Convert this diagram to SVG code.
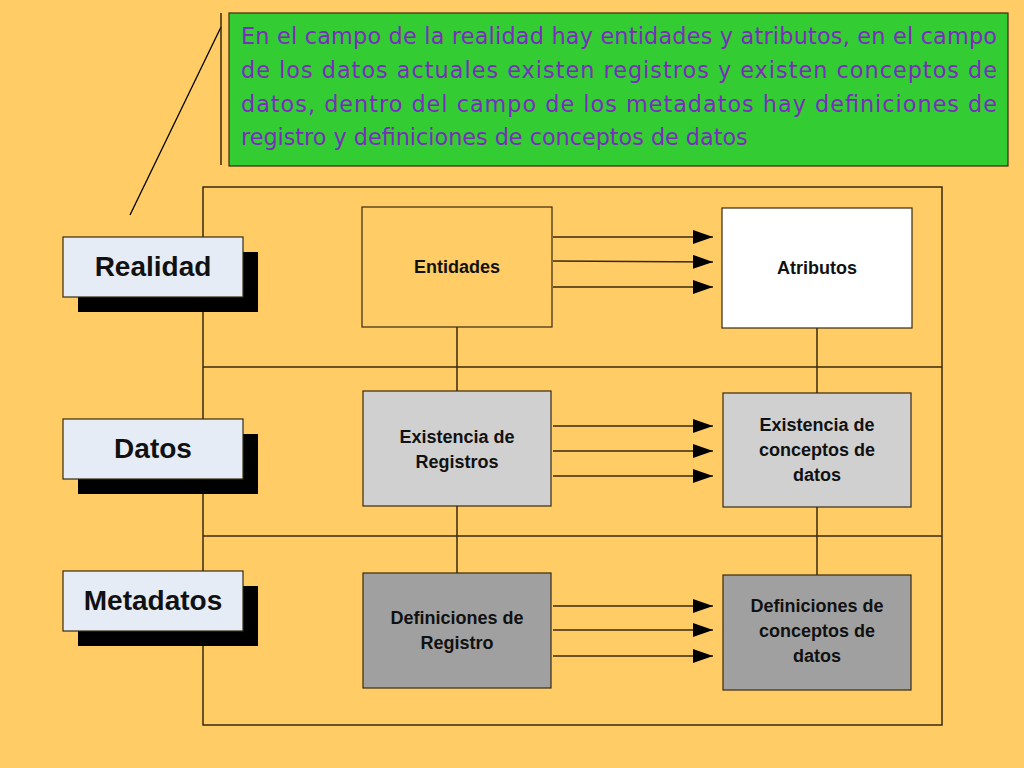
<svg xmlns="http://www.w3.org/2000/svg" width="1024" height="768" viewBox="0 0 1024 768">
<style>
.b{stroke:#3a2a10;stroke-width:1.2}
.ln{stroke:#3a2a10;stroke-width:1.5;fill:none}
.t{font-family:"Liberation Sans",Arial,sans-serif;font-weight:bold;font-size:18px;text-anchor:middle;fill:#111}
.lab{font-family:"Liberation Sans",Arial,sans-serif;font-weight:bold;font-size:28px;text-anchor:middle;fill:#111}
.c{font-family:"DejaVu Sans","Liberation Sans",sans-serif;font-size:22.3px;fill:#7B2CBF}
</style>
<defs><marker id="ah" viewBox="0 0 20 14" refX="20" refY="7" markerWidth="20" markerHeight="14" orient="auto" markerUnits="userSpaceOnUse"><path d="M0,0L20,7L0,14z" fill="#000"/></marker></defs>
<rect width="1024" height="768" fill="#FFCC66"/>
<g id="callout">
<line x1="130" y1="215" x2="221" y2="27" stroke="#000" stroke-width="1.3"/>
<line x1="221" y1="13" x2="221" y2="165" stroke="#3a2a10" stroke-width="1.5"/>
<rect x="229" y="13" width="779" height="153" fill="#33CC33" class="b"/>
<text class="c" x="241" y="44" textLength="756" lengthAdjust="spacing">En el campo de la realidad hay entidades y atributos, en el campo</text>
<text class="c" x="241" y="78" textLength="756" lengthAdjust="spacing">de los datos actuales existen registros y existen conceptos de</text>
<text class="c" x="241" y="112" textLength="756" lengthAdjust="spacing">datos, dentro del campo de los metadatos hay definiciones de</text>
<text class="c" x="241" y="145">registro y definiciones de conceptos de datos</text>
</g>
<g id="frame" class="ln">
<rect x="203" y="187" width="739" height="538"/>
<line x1="203" y1="367" x2="942" y2="367"/>
<line x1="203" y1="536" x2="942" y2="536"/>
</g>
<g id="connectors" class="ln">
<line x1="457" y1="327" x2="457" y2="391"/><line x1="457" y1="506" x2="457" y2="573"/>
<line x1="817" y1="328" x2="817" y2="393"/><line x1="817" y1="507" x2="817" y2="575"/>
<g marker-end="url(#ah)">
<line x1="553" y1="237" x2="713" y2="237"/><line x1="553" y1="261" x2="713" y2="262"/><line x1="553" y1="287" x2="713" y2="287"/>
<line x1="553" y1="426" x2="713" y2="426"/><line x1="553" y1="451" x2="713" y2="451"/><line x1="553" y1="476" x2="713" y2="476"/>
<line x1="553" y1="606" x2="713" y2="606"/><line x1="553" y1="630" x2="713" y2="630"/><line x1="553" y1="656" x2="713" y2="656"/>
</g>
</g>
<g id="realidad"><rect x="78" y="252" width="180" height="60" fill="#000"/><rect x="63" y="237" width="180" height="60" fill="#E6ECF6" class="b"/><text class="lab" x="153" y="276">Realidad</text></g>
<g id="datos"><rect x="78" y="434" width="180" height="60" fill="#000"/><rect x="63" y="419" width="180" height="60" fill="#E6ECF6" class="b"/><text class="lab" x="153" y="458">Datos</text></g>
<g id="metadatos"><rect x="78" y="586" width="180" height="60" fill="#000"/><rect x="63" y="571" width="180" height="60" fill="#E6ECF6" class="b"/><text class="lab" x="153" y="610">Metadatos</text></g>
<g id="entidades"><rect x="362" y="207" width="190" height="120" fill="#FFCC66" class="b"/><text class="t" x="457" y="273">Entidades</text></g>
<g id="atributos"><rect x="722" y="208" width="190" height="120" fill="#FFFFFF" class="b"/><text class="t" x="817" y="274">Atributos</text></g>
<g id="existReg"><rect x="363" y="391" width="188" height="115" fill="#D0D0D0" class="b"/><text class="t" x="457" y="443">Existencia de</text><text class="t" x="457" y="468">Registros</text></g>
<g id="existCon"><rect x="723" y="393" width="188" height="114" fill="#D0D0D0" class="b"/><text class="t" x="817" y="431">Existencia de</text><text class="t" x="817" y="456">conceptos de</text><text class="t" x="817" y="481">datos</text></g>
<g id="defReg"><rect x="363" y="573" width="188" height="115" fill="#A0A0A0" class="b"/><text class="t" x="457" y="624">Definiciones de</text><text class="t" x="457" y="649">Registro</text></g>
<g id="defCon"><rect x="723" y="575" width="188" height="115" fill="#A0A0A0" class="b"/><text class="t" x="817" y="612">Definiciones de</text><text class="t" x="817" y="637">conceptos de</text><text class="t" x="817" y="662">datos</text></g>
</svg>
